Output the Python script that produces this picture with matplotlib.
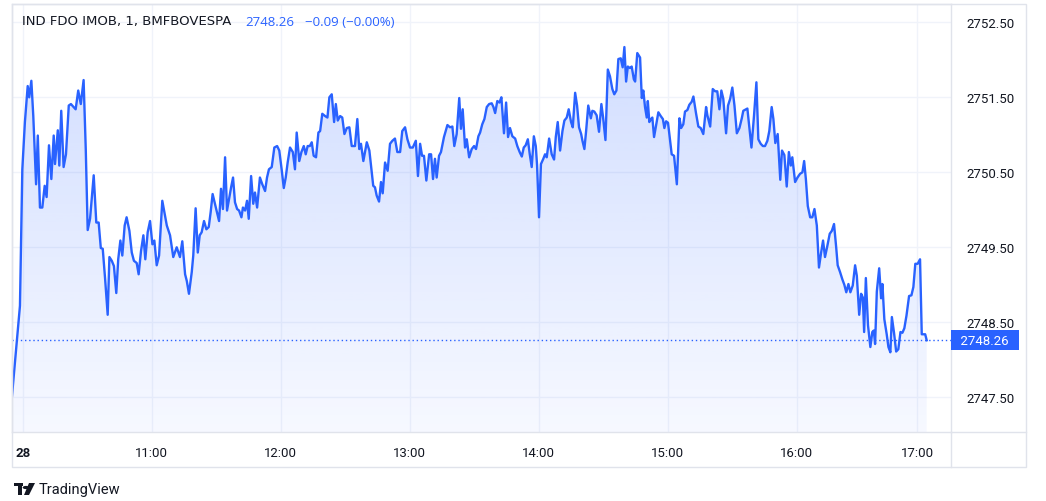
import numpy as np
import matplotlib.pyplot as plt
from matplotlib.patches import Rectangle, Polygon, Circle
from matplotlib.lines import Line2D
import matplotlib.transforms as mtransforms

plt.rcParams['font.family'] = ['Roboto', 'DejaVu Sans']

# 1-minute bars, IND FDO IMOB (BMFBOVESPA), session of the 28th
bar = [0.0, 3.7, 4.8, 6.0, 7.3, 8.0, 9.0, 9.9, 11.2, 12.0, 13.0, 14.1, 15.2, 16.1, 17.2, 18.3, 19.4, 20.0,
       21.3, 22.0, 22.9, 24.0, 25.1, 26.4, 27.4, 29.6, 30.8, 32.0, 33.3, 34.3, 35.2, 36.3, 38.0, 39.2, 40.3,
       41.3, 42.2, 43.3, 44.5, 45.3, 46.4, 47.4, 48.5, 49.4, 50.4, 51.3, 52.4, 53.3, 54.6, 55.7, 56.7, 58.0,
       58.9, 60.0, 61.1, 62.0, 63.1, 64.2, 65.3, 66.2, 67.3, 68.4, 69.9, 72.0, 73.5, 75.0, 76.6, 78.1, 79.2,
       80.5, 81.3, 82.3, 83.6, 84.3, 85.4, 86.4, 87.3, 88.2, 89.3, 90.4, 91.5, 92.4, 93.3, 94.4, 95.3, 96.3,
       97.2, 98.1, 99.1, 100.0, 100.9, 101.9, 102.8, 103.7, 104.7, 105.6, 106.7, 107.4, 108.4, 109.3, 110.1,
       111.2, 112.2, 113.0, 114.0, 115.3, 116.4, 117.7, 118.6, 119.5, 120.8, 122.0, 123.3, 124.3, 125.4,
       126.4, 127.3, 128.2, 129.3, 130.6, 131.6, 132.4, 133.6, 134.6, 135.7, 136.6, 137.5, 138.5, 139.4,
       140.3, 141.4, 142.5, 143.3, 144.3, 145.6, 146.7, 147.6, 148.7, 149.8, 150.6, 151.5, 152.6, 153.6,
       154.6, 155.7, 156.9, 158.0, 159.5, 160.6, 161.5, 162.3, 163.4, 165.0, 166.2, 167.3, 168.0, 168.8,
       169.6, 170.7, 171.6, 172.4, 173.5, 174.7, 175.8, 176.9, 178.1, 179.2, 180.5, 181.5, 182.8, 183.9,
       185.1, 186.4, 187.8, 188.8, 189.8, 190.7, 191.6, 192.7, 194.0, 194.9, 195.8, 196.7, 197.5, 198.6,
       199.5, 200.9, 202.5, 203.7, 204.8, 205.7, 206.8, 208.0, 208.8, 209.6, 210.7, 211.5, 212.6, 213.8,
       214.9, 215.8, 216.9, 217.7, 218.7, 219.7, 220.8, 221.9, 223.1, 223.9, 224.7, 225.7, 226.7, 227.6,
       228.8, 229.8, 230.7, 231.6, 232.7, 234.0, 235.0, 236.1, 237.1, 238.0, 238.9, 239.9, 240.8, 241.7,
       242.7, 243.6, 244.2, 245.1, 246.0, 247.1, 247.9, 248.7, 249.8, 251.0, 252.1, 252.9, 253.8, 254.9,
       256.0, 256.9, 258.0, 258.9, 260.0, 260.8, 261.9, 262.8, 263.7, 264.7, 265.3, 266.2, 267.0, 268.0,
       269.2, 269.9, 270.8, 271.9, 273.0, 274.1, 274.9, 276.0, 277.1, 278.1, 279.2, 280.1, 281.1, 282.0,
       283.1, 284.0, 284.8, 285.6, 286.4, 287.4, 288.2, 289.2, 289.8, 290.8, 292.1, 292.9, 293.6, 294.4,
       295.2, 295.7, 296.4, 297.2, 297.8, 298.6, 299.5, 300.6, 301.7, 302.7, 303.4, 304.2, 305.1, 306.0,
       306.8, 307.9, 309.2, 310.4, 311.2, 312.2, 313.0, 314.1, 315.0, 316.1, 316.9, 318.1, 319.2, 320.3,
       321.5, 322.8, 323.4, 324.7, 325.9, 327.0, 328.0, 329.0, 329.9, 330.8, 332.1, 333.0, 334.0, 335.0,
       336.0, 337.1, 338.3, 339.4, 340.1, 341.3, 342.0, 342.9, 343.9, 345.1, 346.2, 347.1, 348.2, 349.2,
       350.2, 351.3, 352.2, 353.3, 354.1, 355.0, 356.1, 357.3, 358.1, 359.2, 360.3, 361.3, 362.2, 362.9,
       364.2, 365.3, 366.5, 367.6, 368.4, 369.2, 370.1, 371.2, 372.2, 373.2, 374.3, 375.3, 376.3, 377.2,
       378.1, 379.2, 380.3, 381.3, 382.3, 383.3, 384.0, 385.1, 386.2, 387.1, 388.0, 389.0, 389.9, 391.0,
       392.1, 392.9, 394.0, 394.9, 395.7, 396.3, 397.1, 398.1, 399.2, 400.1, 400.8, 401.4, 402.2, 403.3,
       404.2, 404.8, 405.7, 406.8, 407.6, 408.5, 409.2, 410.2, 411.2, 412.2, 413.2, 414.1, 415.0, 416.0,
       417.2, 418.3, 419.2, 420.1, 421.2, 422.3, 423.1, 423.7, 424.7, 425.4]

price = [2747.52, 2748.72, 2750.54, 2751.17, 2751.65, 2751.50, 2751.72, 2751.25, 2750.34, 2750.99, 2750.03,
         2750.03, 2750.32, 2750.17, 2750.86, 2750.41, 2750.99, 2750.61, 2751.06, 2750.59, 2751.32, 2750.57,
         2750.74, 2751.39, 2751.41, 2751.34, 2751.59, 2751.41, 2751.73, 2750.81, 2749.73, 2749.88, 2750.46,
         2749.83, 2749.83, 2749.49, 2749.48, 2749.08, 2748.60, 2749.37, 2749.32, 2749.25, 2748.89, 2749.34,
         2749.59, 2749.39, 2749.79, 2749.90, 2749.72, 2749.43, 2749.32, 2749.29, 2749.14, 2749.45, 2749.66,
         2749.34, 2749.70, 2749.85, 2749.54, 2749.59, 2749.26, 2749.39, 2750.12, 2749.79, 2749.66, 2749.37,
         2749.50, 2749.37, 2749.58, 2749.14, 2749.05, 2748.88, 2749.17, 2749.39, 2750.02, 2749.43, 2749.66,
         2749.70, 2749.85, 2749.74, 2749.77, 2749.97, 2750.21, 2750.08, 2749.97, 2749.85, 2750.28, 2750.01,
         2750.70, 2749.99, 2750.14, 2750.30, 2750.43, 2750.10, 2750.01, 2749.99, 2749.90, 2750.03, 2749.99,
         2750.12, 2749.88, 2750.45, 2750.08, 2750.23, 2750.03, 2750.43, 2750.34, 2750.25, 2750.43, 2750.54,
         2750.57, 2750.83, 2750.85, 2750.79, 2750.54, 2750.29, 2750.43, 2750.63, 2750.83, 2750.77, 2750.54,
         2751.03, 2750.65, 2750.77, 2750.85, 2750.74, 2750.85, 2750.85, 2750.90, 2750.72, 2750.70, 2751.03,
         2751.05, 2751.28, 2751.25, 2751.23, 2751.50, 2751.54, 2751.17, 2751.41, 2751.19, 2751.25, 2751.23,
         2751.01, 2751.09, 2751.10, 2750.85, 2750.85, 2751.21, 2750.81, 2750.88, 2750.65, 2750.90, 2750.79,
         2750.50, 2750.32, 2750.30, 2750.19, 2750.11, 2750.37, 2750.22, 2750.63, 2750.52, 2750.88, 2750.92,
         2750.95, 2750.77, 2750.77, 2751.05, 2751.10, 2750.94, 2750.83, 2750.83, 2750.92, 2750.45, 2750.88,
         2750.72, 2750.72, 2750.39, 2750.74, 2750.74, 2750.41, 2750.68, 2750.43, 2750.72, 2750.77, 2750.97,
         2751.13, 2751.10, 2751.11, 2750.85, 2751.01, 2751.49, 2751.08, 2751.34, 2750.83, 2750.94, 2750.70,
         2750.81, 2750.85, 2750.81, 2750.98, 2751.03, 2751.14, 2751.21, 2751.37, 2751.41, 2751.42, 2751.37,
         2751.29, 2751.45, 2751.43, 2751.50, 2751.02, 2751.43, 2750.97, 2751.09, 2750.98, 2750.95, 2750.85,
         2750.77, 2750.71, 2750.83, 2750.86, 2750.94, 2750.74, 2750.57, 2750.98, 2750.85, 2750.59, 2749.90,
         2750.61, 2750.68, 2750.74, 2750.70, 2750.95, 2750.74, 2750.67, 2750.97, 2751.17, 2750.79, 2751.05,
         2751.19, 2751.23, 2751.34, 2751.17, 2751.10, 2751.56, 2751.39, 2751.10, 2751.01, 2750.92, 2750.81,
         2751.05, 2751.39, 2751.22, 2751.32, 2751.31, 2751.26, 2751.04, 2751.41, 2751.23, 2750.93, 2751.87,
         2751.78, 2751.61, 2751.54, 2751.59, 2752.01, 2752.02, 2751.90, 2752.17, 2751.71, 2751.91, 2751.89,
         2751.91, 2751.74, 2751.71, 2752.09, 2752.03, 2751.49, 2751.59, 2751.37, 2751.23, 2751.45, 2751.17,
         2751.21, 2751.23, 2750.97, 2751.12, 2751.30, 2751.25, 2751.21, 2751.09, 2751.18, 2751.16, 2750.94,
         2750.74, 2750.72, 2750.34, 2751.22, 2751.09, 2751.14, 2751.31, 2751.33, 2751.40, 2751.44, 2751.51,
         2751.29, 2751.11, 2751.09, 2751.01, 2751.37, 2751.26, 2751.11, 2751.61, 2751.58, 2751.58, 2751.34,
         2751.59, 2751.48, 2751.02, 2751.39, 2751.48, 2751.63, 2751.39, 2751.02, 2751.09, 2751.22, 2751.32,
         2751.34, 2751.35, 2751.11, 2750.83, 2751.26, 2751.70, 2750.94, 2750.88, 2750.85, 2750.85, 2750.92,
         2751.05, 2751.37, 2751.21, 2750.89, 2751.01, 2750.40, 2750.79, 2750.73, 2750.31, 2750.77, 2750.59,
         2750.70, 2750.37, 2750.43, 2750.48, 2750.50, 2750.65, 2750.41, 2750.05, 2749.90, 2749.90, 2750.01,
         2749.79, 2749.23, 2749.43, 2749.59, 2749.37, 2749.52, 2749.68, 2749.72, 2749.81, 2749.50, 2749.26,
         2749.17, 2749.07, 2749.00, 2748.90, 2749.01, 2748.90, 2748.99, 2749.26, 2749.12, 2748.60, 2748.88,
         2748.83, 2748.37, 2749.09, 2748.46, 2748.17, 2748.37, 2748.39, 2748.21, 2748.91, 2749.22, 2748.82,
         2749.01, 2748.54, 2748.34, 2748.17, 2748.10, 2748.57, 2748.36, 2748.11, 2748.14, 2748.37, 2748.36,
         2748.42, 2748.59, 2748.85, 2748.86, 2748.97, 2749.28, 2749.28, 2749.34, 2748.34, 2748.34, 2748.34,
         2748.26]

hour_bars = [5, 65, 125, 185, 245, 305, 365, 421]
hour_labels = ['28', '11:00', '12:00', '13:00', '14:00', '15:00', '16:00', '17:00']
price_ticks = [2747.5, 2748.5, 2749.5, 2750.5, 2751.5, 2752.5]
last_price = 2748.26
change = -0.09
change_pct = -0.00

blue = '#2962ff'
grid = '#f0f3fa'
border = '#e0e3eb'
txt = '#131722'

fig = plt.figure(figsize=(10.46, 5.02), dpi=100)
ax = fig.add_axes([12 / 1046, 1 - 433 / 502, 939 / 1046, 428 / 502])
x0, x1 = 0, 436.7
y0, y1 = 2747.037, 2752.744

# area fill with vertical gradient
poly = ax.fill_between(bar, price, y0, facecolor='none', edgecolor='none')
alpha = np.linspace(0.23, 0.04, 256)
rgba = np.zeros((256, 1, 4))
rgba[:, 0, 0] = 41 / 255
rgba[:, 0, 1] = 98 / 255
rgba[:, 0, 2] = 1.0
rgba[:, 0, 3] = alpha
im = ax.imshow(rgba, extent=[x0, x1, y0, y1], aspect='auto', origin='upper', zorder=1)
im.set_clip_path(poly.get_paths()[0], transform=ax.transData)

ax.plot(bar, price, color=blue, lw=1.7, zorder=3, solid_joinstyle='round')
ax.axhline(last_price, color=blue, lw=1, linestyle=(0, (1, 2)), zorder=2)

ax.set_xlim(x0, x1)
ax.set_ylim(y0, y1)
ax.set_xticks(hour_bars)
ax.set_xticklabels(hour_labels)
ax.set_yticks(price_ticks)
ax.set_yticklabels([f'{v:.2f}' for v in price_ticks])
ax.yaxis.tick_right()
ax.tick_params(axis='both', length=0, labelsize=9.5, labelcolor=txt)
ax.tick_params(axis='x', pad=10)
ax.tick_params(axis='y', pad=11)
ax.get_xticklabels()[0].set_fontweight('bold')
ax.grid(True, color=grid, lw=1, zorder=0)
ax.set_axisbelow(True)
for s in ax.spines.values():
    s.set_color(border)
    s.set_linewidth(1)

# outer frame of the chart widget, price scale and time scale separators
fig.patches.append(Rectangle((12 / 1046, 1 - 468 / 502), 1014 / 1046, 463 / 502, transform=fig.transFigure,
                             fill=False, ec=border, lw=1))
fig.lines.append(Line2D([951 / 1046, 951 / 1046], [1 - 468 / 502, 1 - 433 / 502], transform=fig.transFigure,
                        color=border, lw=1))
fig.lines.append(Line2D([951 / 1046, 1026 / 1046], [1 - 433 / 502, 1 - 433 / 502], transform=fig.transFigure,
                        color=border, lw=1))

# last price label on the price scale
trans = mtransforms.blended_transform_factory(ax.transAxes, ax.transData)
ax.annotate(f'  {last_price:.2f}  ', xy=(1.0, last_price), xycoords=trans, xytext=(2.5, 0),
            textcoords='offset points', ha='left', va='center', color='white', fontsize=9.5,
            bbox=dict(boxstyle='square,pad=0.25', fc=blue, ec='none'), annotation_clip=False, zorder=5)

# legend line
fig.text(22 / 1046, 1 - 22 / 502, 'IND FDO IMOB, 1, BMFBOVESPA', color=txt, fontsize=9.5, va='center',
         family=['DejaVu Sans'])
fig.text(245 / 1046, 1 - 22 / 502, f'{last_price:.2f}', color=blue, fontsize=9.5, va='center',
         family=['Open Sans', 'DejaVu Sans'])
fig.text(305 / 1046, 1 - 22 / 502, f'\u2212{abs(change):.2f} (\u2212{abs(change_pct):.2f}%)', color=blue,
         fontsize=9.5, va='center', family=['Open Sans', 'DejaVu Sans'])

# TradingView logo
fig.patches.append(Rectangle((14 / 1046, 1 - 487 / 502), 9 / 1046, 3 / 502, transform=fig.transFigure,
                             fc=txt, ec='none'))
fig.patches.append(Rectangle((18 / 1046, 1 - 496 / 502), 4 / 1046, 9 / 502, transform=fig.transFigure,
                             fc=txt, ec='none'))
fig.patches.append(Circle((26 / 1046, 1 - 488.5 / 502), 1.6 / 502, transform=fig.transFigure, fc=txt, ec='none'))
fig.patches.append(Polygon([(29 / 1046, 1 - 484 / 502), (35 / 1046, 1 - 484 / 502), (29 / 1046, 1 - 496 / 502),
                            (24 / 1046, 1 - 496 / 502)], closed=True, transform=fig.transFigure,
                           fc=txt, ec='none'))
fig.text(39 / 1046, 1 - 490 / 502, 'TradingView', color=txt, fontsize=10.5, va='center')

fig.savefig('out.png', dpi=100)
